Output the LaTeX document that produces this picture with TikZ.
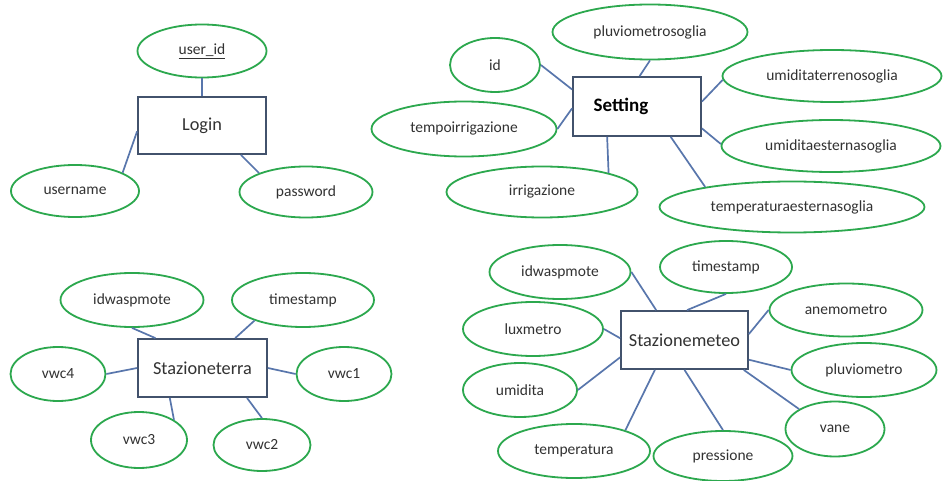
\documentclass[tikz,border=0pt]{standalone}
\usepackage{fontspec}
\setmainfont{Carlito}
\usetikzlibrary{shapes.geometric,calc}
\definecolor{egreen}{RGB}{44,168,78}
\definecolor{rborder}{RGB}{66,82,108}
\definecolor{cblue}{RGB}{88,118,172}
\definecolor{tgray}{RGB}{50,50,50}
\tikzset{
  attr/.style={ellipse, draw=egreen, line width=1.8pt, inner sep=0pt, text=tgray,
    font=\fontsize{15.5}{18}\selectfont},
  ent/.style={rectangle, draw=rborder, line width=1.8pt, inner sep=0pt, text=tgray,
    font=\fontsize{18.3}{21}\selectfont},
  conn/.style={draw=cblue, line width=1.7pt}
}
\begin{document}
\begin{tikzpicture}[x=1pt,y=-1pt]
\useasboundingbox[fill=white] (0,0) rectangle (943,481);

% ---------- Login ----------
\node[ent, minimum width=128, minimum height=57] (lg) at (202,125.5) {Login};
\node[attr, minimum width=129, minimum height=53] (uid) at (202,51) {\underline{user\_id}};
\node[attr, minimum width=128, minimum height=52] (un) at (75,191) {username};
\node[attr, minimum width=133, minimum height=51] (pw) at (306,192) {password};
\draw[conn] (lg.north) -- (uid.south);
\draw[conn] ($(lg.north west)!0.6!(lg.south west)$) -- (un.21);
\draw[conn] ($(lg.south west)!0.8!(lg.south east)$) -- (pw.158);

% ---------- Setting ----------
\node[ent, minimum width=128, minimum height=59, text=black,
  font=\fontsize{19}{22}\selectfont\bfseries] (st) at (637,106.5) {Setting\hspace*{32pt}};
\node[attr, minimum width=90, minimum height=54] (sid) at (495,65) {id};
\node[attr, minimum width=195, minimum height=55] (plvs) at (650,32) {pluviometrosoglia};
\node[attr, minimum width=185, minimum height=55] (tirr) at (464,129) {tempoirrigazione};
\node[attr, minimum width=191, minimum height=51] (irr) at (542,192) {irrigazione};
\node[attr, minimum width=219, minimum height=52] (uts) at (832,76) {umiditaterrenosoglia};
\node[attr, minimum width=219, minimum height=52] (ues) at (831,146) {umiditaesternasoglia};
\node[attr, minimum width=265, minimum height=51] (tes) at (792,207) {temperaturaesternasoglia};
\draw[conn] ($(st.north west)!0.22!(st.south west)$) -- (sid.east);
\draw[conn] ($(st.north west)!0.52!(st.north east)$) -- (plvs.south);
\draw[conn] ($(st.north west)!0.53!(st.south west)$) -- (tirr.east);
\draw[conn] ($(st.south west)!0.27!(st.south east)$) -- (irr.16);
\draw[conn] ($(st.north east)!0.42!(st.south east)$) -- (uts.182);
\draw[conn] ($(st.north east)!0.86!(st.south east)$) -- (ues.179);
\draw[conn] ($(st.south west)!0.76!(st.south east)$) -- (tes.167);

% ---------- Stazioneterra ----------
\node[ent, minimum width=129, minimum height=58] (ter) at (202.5,368) {Stazioneterra};
\node[attr, minimum width=143, minimum height=54] (tid) at (132,300) {idwaspmote};
\node[attr, minimum width=142, minimum height=54] (tts) at (303,300) {timestamp};
\node[attr, minimum width=95, minimum height=54] (v4) at (58,374) {vwc4};
\node[attr, minimum width=95, minimum height=54] (v1) at (344,374) {vwc1};
\node[attr, minimum width=96, minimum height=56] (v3) at (139,440) {vwc3};
\node[attr, minimum width=97, minimum height=52] (v2) at (262,445) {vwc2};
\draw[conn] ($(ter.north west)!0.14!(ter.north east)$) -- (tid.south);
\draw[conn] ($(ter.north west)!0.75!(ter.north east)$) -- (tts.203);
\draw[conn] (ter.west) -- (v4.east);
\draw[conn] (ter.east) -- (v1.west);
\draw[conn] ($(ter.south west)!0.25!(ter.south east)$) -- (v3.30);
\draw[conn] ($(ter.south west)!0.84!(ter.south east)$) -- (v2.north);

% ---------- Stazionemeteo ----------
\node[ent, minimum width=127, minimum height=58] (met) at (684.5,340) {Stazionemeteo};
\node[attr, minimum width=141, minimum height=54] (mid) at (560,272) {idwaspmote};
\node[attr, minimum width=132, minimum height=52] (mts) at (726,267) {timestamp};
\node[attr, minimum width=153, minimum height=53] (ane) at (846,310) {anemometro};
\node[attr, minimum width=140, minimum height=54] (lux) at (533,329) {luxmetro};
\node[attr, minimum width=145, minimum height=54] (plv) at (864,370) {pluviometro};
\node[attr, minimum width=114, minimum height=54] (umi) at (520,390) {umidita};
\node[attr, minimum width=99, minimum height=55] (van) at (835,429) {vane};
\node[attr, minimum width=152, minimum height=54] (tmp) at (574,451) {temperatura};
\node[attr, minimum width=139, minimum height=50] (prs) at (723,456) {pressione};
\draw[conn] ($(met.north west)!0.28!(met.north east)$) -- (mid.east);
\draw[conn] ($(met.north west)!0.52!(met.north east)$) -- (mts.south);
\draw[conn] ($(met.north east)!0.4!(met.south east)$) -- (ane.west);
\draw[conn] ($(met.north west)!0.47!(met.south west)$) -- (lux.east);
\draw[conn] ($(met.north east)!0.83!(met.south east)$) -- (plv.west);
\draw[conn] ($(met.north west)!0.79!(met.south west)$) -- (umi.east);
\draw[conn] ($(met.south west)!0.96!(met.south east)$) -- (van.151);
\draw[conn] ($(met.south west)!0.27!(met.south east)$) -- (tmp.22);
\draw[conn] ($(met.south west)!0.5!(met.south east)$) -- (prs.north);
\end{tikzpicture}
\end{document}
